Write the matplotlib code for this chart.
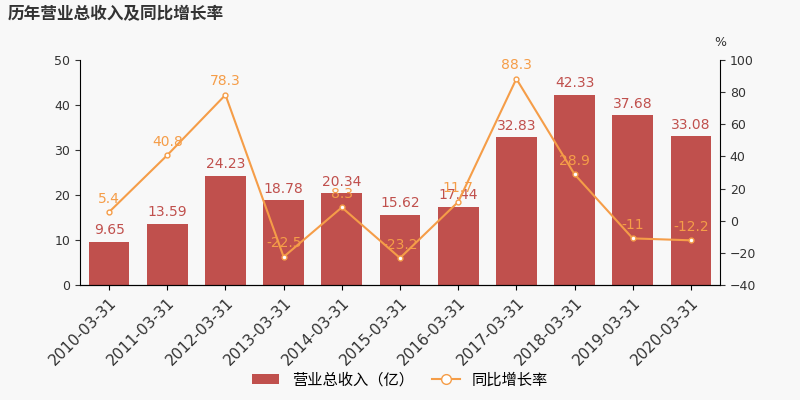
import matplotlib
matplotlib.use("Agg")
import matplotlib.pyplot as plt

plt.rcParams['font.family'] = ['DejaVu Sans', 'Noto Sans CJK SC']

dates = ["2010-03-31","2011-03-31","2012-03-31","2013-03-31","2014-03-31","2015-03-31",
         "2016-03-31","2017-03-31","2018-03-31","2019-03-31","2020-03-31"]
revenue = [9.65,13.59,24.23,18.78,20.34,15.62,17.44,32.83,42.33,37.68,33.08]
growth = [5.4,40.8,78.3,-22.5,8.3,-23.2,11.7,88.3,28.9,-11,-12.2]

bg = "#f8f8f8"
bar_c = "#c0504d"
line_c = "#f59d48"
cjk = ['Noto Sans CJK SC', 'DejaVu Sans']

fig = plt.figure(figsize=(8,4), dpi=100, facecolor=bg)
ax = fig.add_axes([0.1, 0.2875, 0.8, 0.5625])
ax.set_facecolor(bg)
x = range(len(dates))
ax.bar(x, revenue, width=0.7, color=bar_c, label="营业总收入（亿）", zorder=2)
for i, v in zip(x, revenue):
    ax.text(i, v + 1, f"{v:.2f}", ha="center", va="bottom", color=bar_c, fontsize=10, zorder=5)
ax.set_ylim(0, 50)
ax.set_xlim(-0.5, len(dates) - 0.5)
ax.set_xticks(list(x))
ax.set_xticklabels(dates, rotation=45, ha="right", rotation_mode="anchor", fontsize=11, color="#333333")
ax.tick_params(axis='y', labelsize=9, colors="#333333")
for s in ["top", "right"]:
    ax.spines[s].set_visible(False)

ax2 = ax.twinx()
ax2.plot(list(x), growth, color=line_c, marker="o", markersize=3.5, markerfacecolor="white",
         linewidth=1.5, label="同比增长率", zorder=3)
for i, v in zip(x, growth):
    ax2.text(i, v + 4, f"{v:g}", ha="center", va="bottom", color=line_c, fontsize=10, zorder=5)
ax2.set_ylim(-40, 100)
ax2.set_yticks(range(-40, 101, 20))
ax2.tick_params(axis='y', labelsize=9, colors="#333333")
for s in ["top", "left"]:
    ax2.spines[s].set_visible(False)
ax2.text(1.0, 1.06, "%", transform=ax2.transAxes, ha="center", fontsize=9, color="#333333")

fig.text(0.01, 0.965, "历年营业总收入及同比增长率", fontsize=12, fontweight="bold", color="#333333",
         va="center", family=cjk)

h1, l1 = ax.get_legend_handles_labels()
h2, l2 = ax2.get_legend_handles_labels()
fig.legend(h1 + h2, l1 + l2, loc="lower center", bbox_to_anchor=(0.5, -0.005), ncol=2,
           frameon=False, prop={'family': cjk, 'size': 11}, handlelength=1.8, columnspacing=1.2,
           markerscale=2)

fig.savefig("out.png", dpi=100, facecolor=bg)
